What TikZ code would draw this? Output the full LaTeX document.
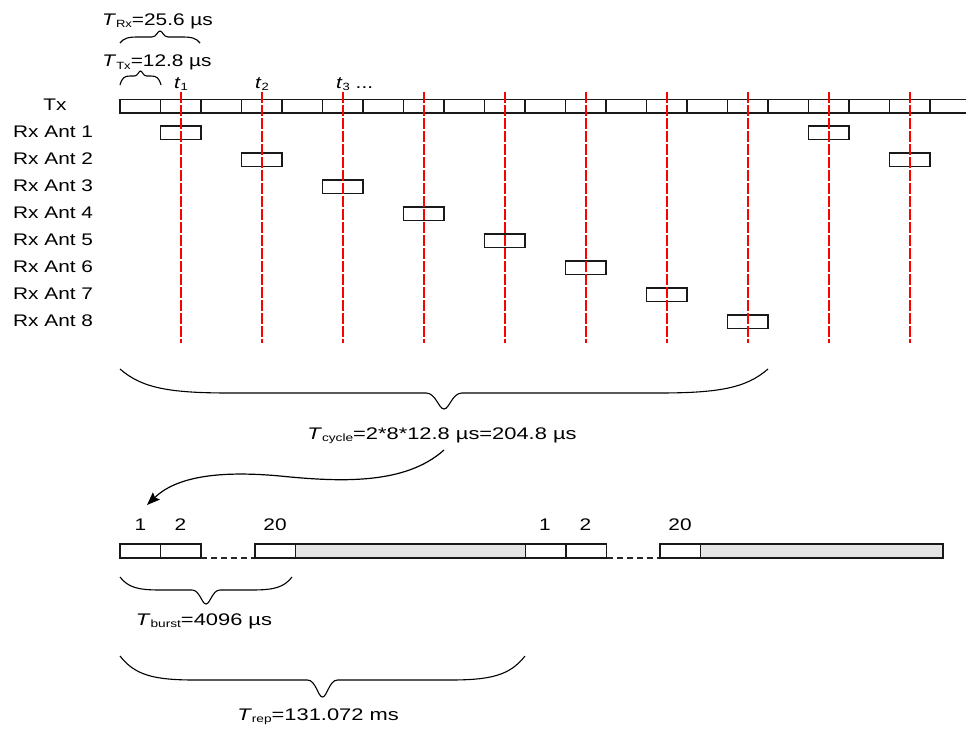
\documentclass[tikz,border=0pt]{standalone}
\usepackage{fontspec}
\setmainfont[FakeStretch=1.24]{Liberation Sans}
\usetikzlibrary{arrows.meta}
\newcommand\sbs[1]{\raisebox{-0.3ex}{\fontsize{10.5}{12}\selectfont #1}}
\newcommand\wide[1]{\scalebox{1.05}[1]{#1}}
\newcommand\mybrace[7]{%
  \pgfmathsetmacro\bm{(#1+#2)/2}%
  \draw[brc] (#1,#3) .. controls ({#1+0.2*#6},{#3+0.8*(#4-#3)}) and ({#1+0.45*#6},#4) .. ({#1+#6},#4)
    -- ({\bm-#7},#4) .. controls ({\bm-0.45*#7},#4) and ({\bm-0.3*#7},#5) .. (\bm,#5)
    .. controls ({\bm+0.3*#7},#5) and ({\bm+0.45*#7},#4) .. ({\bm+#7},#4)
    -- ({#2-#6},#4) .. controls ({#2-0.45*#6},#4) and ({#2-0.2*#6},{#3+0.8*(#4-#3)}) .. (#2,#3);}
\tikzset{
  lbl/.style={font=\fontsize{16.8}{20}\selectfont, inner sep=0pt, text=black},
  cell/.style={draw=black!90, line width=1.5pt, fill=white},
  graycell/.style={draw=black!90, line width=1.5pt, fill=black!10},
  redl/.style={draw=red, line width=1.5pt, dash pattern=on 11pt off 2pt},
  brc/.style={draw=black, line width=1.1pt},
  gapline/.style={draw=black!85, line width=1.1pt, dash pattern=on 6pt off 4pt},
  arr/.style={draw=black, line width=1.2pt, -{Stealth[length=13pt,width=10pt,inset=2pt]}}
}
\begin{document}
\begin{tikzpicture}[x=1pt,y=-1pt]
\useasboundingbox (0,0) rectangle (966,736);
\clip (0,0) rectangle (966,736);
% Tx row
\foreach \k in {0,...,20} \draw[cell] ({120+40.5*\k},99.5) rectangle ++(40.5,13.5);
% Rx boxes
\foreach \k in {0,...,7} \draw[cell] ({160.5+81*\k},{126+27*\k}) rectangle ++(40.5,13.5);
\draw[cell] (808.5,126) rectangle ++(40.5,13.5);
\draw[cell] (889.5,153) rectangle ++(40.5,13.5);
% red dashed lines
\foreach \j in {0,...,9} \draw[redl] ({181+81*\j},92) -- ++(0,251);
% row labels
\node[lbl, anchor=base] (txl) at (55,110) {Tx};
\foreach \k in {1,...,8} \node[lbl, anchor=base west] (rx\k) at (13,{137.5+27*(\k-1)}) {Rx Ant \k};
% t labels
\node[lbl, anchor=base] (t1) at (181,88) {\textit{t}\sbs{1}};
\node[lbl, anchor=base] (t2) at (262,88) {\textit{t}\sbs{2}};
\node[lbl, anchor=base west] (t3) at (336,88) {\textit{t}\sbs{3} ...};
% top braces and labels
\node[lbl, anchor=base] (trx) at (157.5,25) {\textit{T}\sbs{Rx}=25.6 µs};
\mybrace{120}{200}{43}{37}{31}{18}{8}
\node[lbl, anchor=base] (ttx) at (157,66.5) {\textit{T}\sbs{Tx}=12.8 µs};
\mybrace{120}{161}{85}{76}{71}{10}{6}
% cycle brace
\mybrace{120}{768}{369}{393}{409}{110}{18}
\node[lbl, anchor=base] (tcyc) at (442,439) {\wide{\textit{T}\sbs{cycle}=2*8*12.8 µs=204.8 µs}};
% arrow
\coordinate (arrS) at (444,450);
\coordinate (arrE) at (147,505);
\draw[arr] (arrS) .. controls (405,485) and (340,482) .. (280,476) .. controls (215,470) and (175,478) .. (arrE);
% bottom row
\draw[cell] (120,544) rectangle (160.5,558);
\draw[cell] (160.5,544) rectangle (201,558);
\draw[gapline] (201,558) -- (255,558);
\draw[cell] (255,544) rectangle (295.5,558);
\draw[graycell] (295.5,544) rectangle (525.5,558);
\draw[cell] (525.5,544) rectangle (566,558);
\draw[cell] (566,544) rectangle (606.5,558);
\draw[gapline] (606.5,558) -- (660,558);
\draw[cell] (660,544) rectangle (700.5,558);
\draw[graycell] (700.5,544) rectangle (943,558);
\node[lbl, anchor=base] (n1a) at (140.5,530) {1};
\node[lbl, anchor=base] (n2a) at (180.5,530) {2};
\node[lbl, anchor=base] (n20a) at (275,530) {20};
\node[lbl, anchor=base] (n1b) at (545,530) {1};
\node[lbl, anchor=base] (n2b) at (585.5,530) {2};
\node[lbl, anchor=base] (n20b) at (680,530) {20};
% burst and rep braces
\mybrace{120}{292}{577}{590}{604}{40}{14}
\node[lbl, anchor=base] (tburst) at (204,625) {\wide{\textit{T}\sbs{burst}=4096 µs}};
\mybrace{120}{525}{656}{680}{697}{75}{15}
\node[lbl, anchor=base] (trep) at (318,720) {\wide{\textit{T}\sbs{rep}=131.072 ms}};
\end{tikzpicture}
\end{document}
